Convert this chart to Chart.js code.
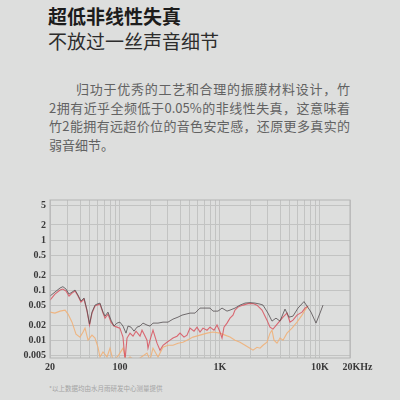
<!DOCTYPE html>
<html lang="zh">
<head>
<meta charset="utf-8">
<script src="https://cdn.jsdelivr.net/npm/chart.js@4"></script>
<style>
  html, body {
    margin: 0;
    padding: 0;
    width: 400px;
    height: 400px;
    overflow: hidden;
    background: #dddedd;
    font-family: "Noto Sans CJK SC", sans-serif;
  }
  .title {
    position: absolute;
    left: 48px;
    top: 6px;
    font-size: 19px;
    line-height: 20px;
    font-weight: 700;
    color: #1c1c1c;
  }
  .subtitle {
    position: absolute;
    left: 48px;
    top: 31px;
    font-size: 19px;
    line-height: 20px;
    font-weight: 400;
    color: #2c2c2c;
  }
  .copy {
    position: absolute;
    left: 49px;
    top: 80px;
    width: 301px;
    font-size: 13px;
    line-height: 18.6px;
    color: #626262;
  }
  .copy div {
    text-align: justify;
    text-align-last: justify;
    white-space: nowrap;
  }
  .copy div.first {
    padding-left: 27px;
  }
  .copy div.last {
    text-align-last: left;
  }
  .note {
    position: absolute;
    left: 49px;
    top: 384px;
    font-size: 6.5px;
    line-height: 8px;
    color: #a4a4a4;
  }
  #chart-wrap {
    position: absolute;
    left: 0;
    top: 190px;
    width: 400px;
    height: 190px;
  }
</style>
</head>
<body>
<div class="title">超低非线性失真</div>
<div class="subtitle">不放过一丝声音细节</div>
<div class="copy">
  <div class="first">归功于优秀的工艺和合理的振膜材料设计，竹</div>
  <div>2拥有近乎全频低于0.05%的非线性失真，这意味着</div>
  <div>竹2能拥有远超价位的音色安定感，还原更多真实的</div>
  <div class="last">弱音细节。</div>
</div>
<div id="chart-wrap"><canvas id="thd-chart"></canvas></div>
<div class="note">*以上数据均由水月雨研发中心测量提供</div>

<script>
// THD readings (%) against frequency (Hz)
const darkFreq = [20, 22.4, 25.2, 26.9, 28.9, 31.0, 33.2, 35.6, 38.1, 40.8, 43.8, 46.9, 49.7, 52.6, 56.4, 59.0, 63.2, 67.8, 71.0, 76.0, 81.5, 87.3, 93.5, 100, 107.4, 115.1, 120.5, 129.1, 138.4, 148.3, 158.9, 170.2, 186.7, 200, 214.3, 240.5, 269.8, 302.7, 339.6, 381.1, 417.9, 458.2, 502.4, 563.7, 632.5, 709.6, 796.2, 853.2, 957.3, 1050, 1178, 1262, 1416, 1589, 1783, 2000, 2244, 2518, 2698, 3027, 3319, 3639, 3991, 4478, 4910, 5383, 6040, 6931, 7431, 8150, 9144, 10024, 10741];
const darkThd = [0.0759, 0.0912, 0.110, 0.117, 0.105, 0.0832, 0.0912, 0.100, 0.0794, 0.0603, 0.0692, 0.0398, 0.0209, 0.0363, 0.0501, 0.0525, 0.0550, 0.0363, 0.0302, 0.0363, 0.0251, 0.0191, 0.0219, 0.0229, 0.0191, 0.0138, 0.0191, 0.0182, 0.0151, 0.0182, 0.0191, 0.0219, 0.0200, 0.0191, 0.0219, 0.0219, 0.0229, 0.0229, 0.0263, 0.0288, 0.0316, 0.0331, 0.0347, 0.0347, 0.0437, 0.0437, 0.0437, 0.0380, 0.0380, 0.0437, 0.0380, 0.0398, 0.0437, 0.0501, 0.0550, 0.0562, 0.0550, 0.0525, 0.0501, 0.0347, 0.0240, 0.0275, 0.0240, 0.0417, 0.0288, 0.0302, 0.0437, 0.0589, 0.0479, 0.0363, 0.0219, 0.0347, 0.0501];

const redFreq = [20, 22.4, 25.2, 26.9, 28.9, 31.0, 33.2, 35.6, 38.1, 40.8, 43.8, 46.9, 49.7, 52.6, 56.4, 59.0, 63.2, 67.8, 71.0, 76.0, 81.5, 87.3, 93.5, 100, 107.4, 112.5, 117.8, 126.2, 135.2, 144.9, 158.9, 166.4, 174.2, 186.7, 191.0, 200, 214.3, 235.0, 251.8, 269.8, 295.8, 317.0, 339.6, 372.4, 399.1, 437.5, 468.8, 502.4, 550.9, 590.2, 632.5, 677.7, 743.1, 796.2, 873.0, 935.4, 1002, 1050, 1099, 1178, 1262, 1352, 1416, 1518, 1703, 1910, 2143, 2349, 2636, 2958, 3170, 3397, 3811, 4276, 4689, 5024, 5383, 5902, 6622, 7097, 7605];
const redThd = [0.0631, 0.0832, 0.100, 0.105, 0.0955, 0.0759, 0.0871, 0.0955, 0.0759, 0.0575, 0.0661, 0.0380, 0.0200, 0.0347, 0.0479, 0.0501, 0.0525, 0.0347, 0.0275, 0.0331, 0.0229, 0.0191, 0.0182, 0.0174, 0.0115, 0.0040, 0.0110, 0.0138, 0.0120, 0.0151, 0.0120, 0.0158, 0.0132, 0.0100, 0.0069, 0.0100, 0.0158, 0.0087, 0.0063, 0.0079, 0.0091, 0.0100, 0.0110, 0.0120, 0.0138, 0.0115, 0.0126, 0.0174, 0.0151, 0.0182, 0.0145, 0.0174, 0.0158, 0.0182, 0.0158, 0.0200, 0.0145, 0.0110, 0.0182, 0.0219, 0.0275, 0.0316, 0.0398, 0.0457, 0.0501, 0.0537, 0.0537, 0.0501, 0.0398, 0.0251, 0.0182, 0.0166, 0.0219, 0.0288, 0.0347, 0.0229, 0.0251, 0.0316, 0.0363, 0.0437, 0.0479];

const orangeFreq = [20, 22.4, 25.2, 28.3, 30.3, 33.2, 36.4, 39.9, 42.8, 44.8, 48.0, 52.6, 56.4, 60.4, 63.2, 67.8, 74.3, 79.6, 85.3, 95.7, 107.4, 115.1, 126.2, 141.6, 158.9, 186.7, 200, 214.3, 240.5, 269.8, 302.7, 339.6, 381.1, 427.6, 468.8, 538.3, 632.5, 743.1, 853.2, 1002, 1125, 1262, 1416, 1589, 1783, 2000, 2143, 2349, 2518, 2698, 2958, 3170, 3319, 3476, 3724, 3991, 4276, 4689, 5261, 5902, 6622, 7097, 7605];
const orangeThd = [0.0363, 0.0347, 0.0380, 0.0398, 0.0331, 0.0229, 0.0132, 0.0115, 0.0145, 0.0174, 0.0100, 0.0126, 0.0110, 0.0072, 0.0046, 0.0058, 0.0046, 0.0069, 0.0040, 0.0048, 0.0069, 0.0040, 0.0046, 0.0040, 0.0044, 0.0055, 0.0040, 0.0069, 0.0046, 0.0072, 0.0079, 0.0079, 0.0087, 0.0091, 0.0100, 0.0115, 0.0126, 0.0138, 0.0145, 0.0138, 0.0126, 0.0115, 0.0100, 0.0091, 0.0079, 0.0069, 0.0063, 0.0072, 0.0069, 0.0079, 0.0091, 0.0138, 0.0158, 0.0100, 0.0087, 0.0110, 0.0100, 0.0138, 0.0174, 0.0229, 0.0316, 0.0398, 0.0479];

// axis ticks
const xTickValues = [20, 30, 40, 50, 60, 70, 80, 90, 100, 200, 300, 400, 500, 600, 700, 800, 900, 1000, 2000, 3000, 4000, 5000, 6000, 7000, 8000, 9000, 10000, 20000];
const xTickLabels = { 20: "20", 100: "100", 1000: "1K", 10000: "10K", 20000: "      20KHz" };
const yTickValues = [0.005, 0.01, 0.02, 0.05, 0.1, 0.2, 0.5, 1, 2, 5];
const yTickLabels = ["0.005", "0.01", "0.02", "0.05", "0.1", "0.2", "0.5", "1", "2", "5"];
const yMin = 0.0044;
const yMax = 6.3;

function toPoints(freqs, values) {
  return freqs.map((f, i) => ({ x: f, y: values[i] }));
}

const gridColor = "#c2c3c2";
const tickFont = { family: "Liberation Serif", size: 10, weight: "bold" };

// outline round the plot area
const plotFrame = {
  id: "plotFrame",
  afterDraw(chart) {
    const { ctx, chartArea } = chart;
    ctx.save();
    ctx.strokeStyle = "#b3b4b3";
    ctx.lineWidth = 1;
    ctx.strokeRect(chartArea.left, chartArea.top, chartArea.right - chartArea.left, chartArea.bottom - chartArea.top);
    ctx.restore();
  },
};

new Chart(document.getElementById("thd-chart"), {
  type: "line",
  data: {
    datasets: [
      {
        label: "orange",
        data: toPoints(orangeFreq, orangeThd),
        borderColor: "rgba(240, 176, 120, 0.9)",
        borderWidth: 1.1,
        pointRadius: 0,
        tension: 0,
        order: 3,
      },
      {
        label: "red",
        data: toPoints(redFreq, redThd),
        borderColor: "rgba(216, 82, 94, 0.85)",
        borderWidth: 1.1,
        pointRadius: 0,
        tension: 0,
        order: 2,
      },
      {
        label: "dark",
        data: toPoints(darkFreq, darkThd),
        borderColor: "rgba(84, 78, 80, 0.8)",
        borderWidth: 1,
        pointRadius: 0,
        tension: 0,
        order: 1,
      },
    ],
  },
  options: {
    responsive: true,
    maintainAspectRatio: false,
    animation: false,
    layout: {
      padding: { top: 10, right: 50, left: 0, bottom: 0 },
    },
    plugins: {
      legend: { display: false },
      tooltip: { enabled: false },
    },
    scales: {
      x: {
        type: "logarithmic",
        min: 20,
        max: 20000,
        afterBuildTicks: (scale) => {
          scale.ticks = xTickValues.map((v) => ({ value: v }));
        },
        afterFit: (scale) => {
          scale.height = 22;
        },
        ticks: {
          autoSkip: false,
          maxRotation: 0,
          padding: 3,
          color: "#3a3a3a",
          font: tickFont,
          callback: (value) => xTickLabels[value] || "",
        },
        grid: {
          color: gridColor,
          lineWidth: 1,
          drawTicks: false,
        },
        border: { display: false },
      },
      y: {
        type: "logarithmic",
        min: yMin,
        max: yMax,
        afterBuildTicks: (scale) => {
          scale.ticks = yTickValues.map((v) => ({ value: v }));
        },
        afterFit: (scale) => {
          scale.width = 50;
        },
        ticks: {
          autoSkip: false,
          padding: 4,
          color: "#3a3a3a",
          font: tickFont,
          callback: (value, index) => yTickLabels[index],
        },
        grid: {
          color: gridColor,
          lineWidth: 1,
          drawTicks: false,
        },
        border: { display: false },
      },
    },
  },
  plugins: [plotFrame],
});
</script>
</body>
</html>
